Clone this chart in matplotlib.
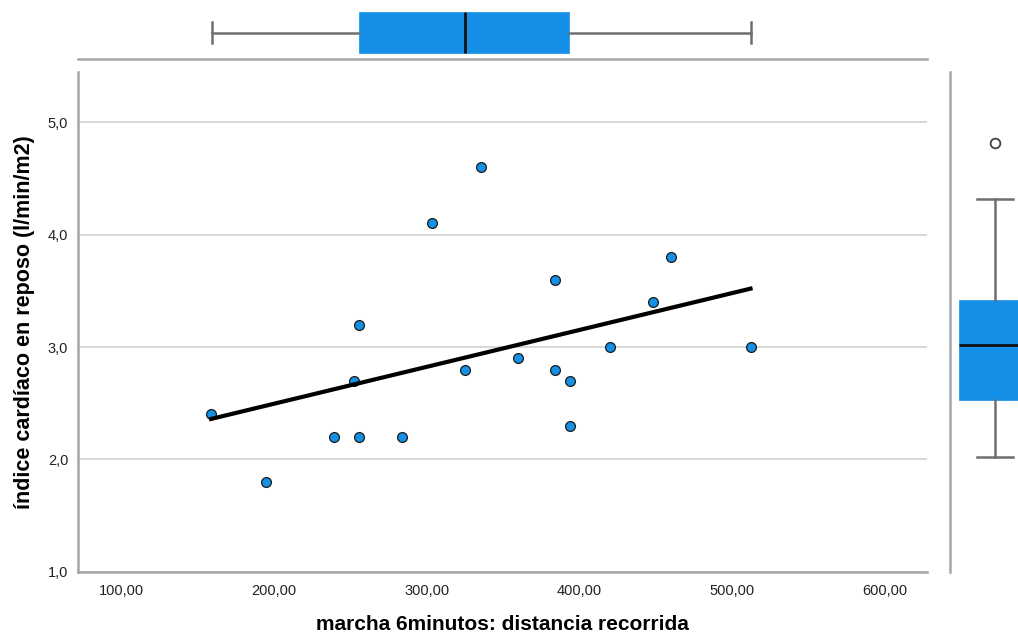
import matplotlib
matplotlib.use('Agg')
import matplotlib.pyplot as plt

plt.rcParams['font.family'] = ['Liberation Sans', 'DejaVu Sans']

# ----------------------------------------------------------------------
# data
# ----------------------------------------------------------------------
dist_m = [158.7, 194.8, 239.3, 255.5, 283.7, 255.5, 252.3, 303.6, 335.7, 325.0,
          359.8, 383.8, 383.8, 393.9, 393.9, 419.9, 448.1, 460.1, 512.1]
indice = [2.4, 1.8, 2.2, 2.2, 2.2, 3.2, 2.7, 4.1, 4.6, 2.8,
          2.9, 3.6, 2.8, 2.7, 2.3, 3.0, 3.4, 3.8, 3.0]

# linea de ajuste (extremos)
fit_x = [158.7, 512.1]
fit_y = [2.36, 3.52]

# boxplot marginal de x: min, q1, mediana, q3, max
box_x = [159.3, 255.7, 325.2, 393.4, 512.1]
# boxplot marginal de y: min, q1, mediana, q3, max, atipico
box_y = [2.02, 2.53, 3.02, 3.42, 4.32]
out_y = [4.82]

x_ticks = [100, 200, 300, 400, 500, 600]
y_ticks = [1.0, 2.0, 3.0, 4.0, 5.0]

blue = '#1590e6'
spine_c = '#a6a6a6'
grid_c = '#d4d4d4'
whisk_c = '#6e6e6e'

fig = plt.figure(figsize=(10.18, 6.37), dpi=100)

# ----------------------------------------------------------------------
# scatter principal
# ----------------------------------------------------------------------
ax = fig.add_axes([0.0766, 0.1025, 0.8337, 0.784])
ax.set_xlim(71.5, 627.5)
ax.set_ylim(1.0, 5.446)
ax.set_yticks(y_ticks)
ax.set_yticklabels([f'{v:.1f}'.replace('.', ',') for v in y_ticks])
ax.set_xticks(x_ticks)
ax.set_xticklabels([f'{v:.2f}'.replace('.', ',') for v in x_ticks])
ax.tick_params(length=0, labelsize=10.5, colors='#222222', pad=7)
ax.tick_params(axis='x', pad=9)
ax.grid(True, axis='y', color=grid_c, linewidth=1.3)
ax.set_axisbelow(True)
for s in ['top', 'right']:
    ax.spines[s].set_visible(False)
for s in ['left', 'bottom']:
    ax.spines[s].set_color(spine_c)
    ax.spines[s].set_linewidth(1.8)

ax.scatter(dist_m, indice, s=50, color=blue, edgecolors='#1a1a1a', linewidths=0.9, zorder=3)
ax.plot(fit_x, fit_y, color='black', linewidth=3, zorder=4)

ax.set_xlabel('marcha 6minutos: distancia recorrida', fontsize=15, fontweight='bold', labelpad=12)
ax.set_ylabel('índice cardíaco en reposo (l/min/m2)', fontsize=15.5, fontweight='bold', labelpad=9)

# ----------------------------------------------------------------------
# boxplot superior (x)
# ----------------------------------------------------------------------
axt = fig.add_axes([0.0766, (637 - 59.3) / 637, 0.8337, 59.3 / 637])
axt.set_xlim(71.5, 627.5)
axt.set_ylim(0, 1)
stats_x = [dict(whislo=box_x[0], q1=box_x[1], med=box_x[2], q3=box_x[3], whishi=box_x[4], fliers=[])]
axt.bxp(stats_x, positions=[0.45], widths=0.69, orientation='horizontal', patch_artist=True,
        boxprops=dict(facecolor=blue, edgecolor=blue, linewidth=0.5),
        medianprops=dict(color='#111111', linewidth=2),
        whiskerprops=dict(color=whisk_c, linewidth=1.8),
        capprops=dict(color=whisk_c, linewidth=1.8))
axt.set_xticks([])
axt.set_yticks([])
for s in ['top', 'right', 'left']:
    axt.spines[s].set_visible(False)
axt.spines['bottom'].set_color(spine_c)
axt.spines['bottom'].set_linewidth(1.8)

# ----------------------------------------------------------------------
# boxplot derecho (y)
# ----------------------------------------------------------------------
axr = fig.add_axes([950 / 1018, 0.1025, 68 / 1018, 0.784])
axr.set_xlim(0, 1)
axr.set_ylim(1.0, 5.446)
stats_y = [dict(whislo=box_y[0], q1=box_y[1], med=box_y[2], q3=box_y[3], whishi=box_y[4], fliers=out_y)]
axr.bxp(stats_y, positions=[0.662], widths=1.05, patch_artist=True,
        boxprops=dict(facecolor=blue, edgecolor=blue, linewidth=0.5),
        medianprops=dict(color='#111111', linewidth=2),
        whiskerprops=dict(color=whisk_c, linewidth=1.8),
        capprops=dict(color=whisk_c, linewidth=1.8),
        flierprops=dict(marker='o', markerfacecolor='white', markeredgecolor='#444444',
                        markersize=7, markeredgewidth=1.3))
axr.set_xticks([])
axr.set_yticks([])
for s in ['top', 'right', 'bottom']:
    axr.spines[s].set_visible(False)
axr.spines['left'].set_color(spine_c)
axr.spines['left'].set_linewidth(1.8)

fig.savefig('out.png', dpi=100)
